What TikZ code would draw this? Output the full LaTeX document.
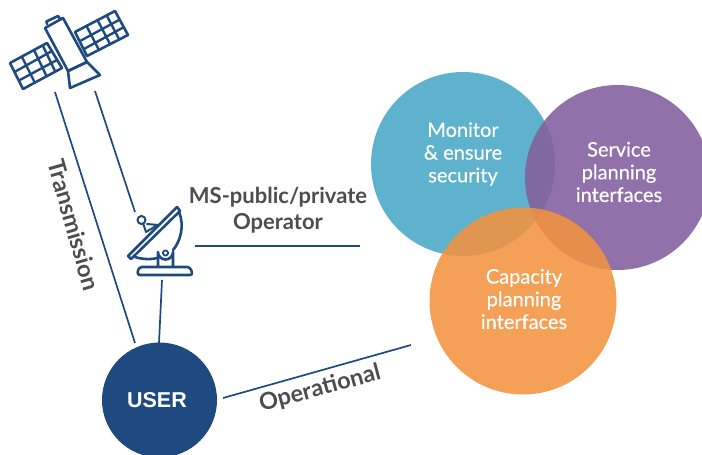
\documentclass[tikz,border=0pt]{standalone}
\usepackage{fontspec}
\setmainfont{Lato}
\newfontfamily\midfont[FakeBold=0.35]{Lato}
\newfontfamily\userfont{Liberation Sans}
\usetikzlibrary{calc}
\definecolor{navy}{HTML}{1F4A7F}
\definecolor{cblue}{HTML}{5EB2CD}
\definecolor{cpurple}{HTML}{82609E}
\definecolor{corange}{HTML}{F4923E}
\definecolor{txt}{HTML}{4D4D4D}
\tikzset{
 link/.style={navy,line width=1.7pt},
 icon/.style={navy,line width=2.6pt,line join=round,line cap=round},
 vennc/.style={circle,minimum size=#1,inner sep=0pt},
 venntxt/.style={text=white,align=center,font=\fontsize{20}{22.7}\selectfont\midfont},
 lab/.style={text=txt,font=\fontsize{22}{26}\selectfont\bfseries,align=center},
 rotlab/.style={text=txt,font=\fontsize{23.5}{26}\selectfont\bfseries},
}
\begin{document}
\begin{tikzpicture}[x=1pt,y=-1pt]
\useasboundingbox (0,0) rectangle (702,455);
\begin{scope}
\clip (0,0) rectangle (702,455);
\node[vennc=184pt,fill=cblue] (sec) at (463,164) {};
\node[vennc=185pt,fill=cpurple,fill opacity=.89] (srv) at (617.5,177.5) {};
\node[vennc=187pt,fill=corange,fill opacity=.87] (cap) at (523,301) {};
\node[vennc=115pt,fill=navy] (user) at (159.5,400) {};
\end{scope}
\node[venntxt] (sect) at (463,154) {Monitor\\\& ensure\\security};
\node[venntxt] (srvt) at (619,172) {Service\\planning\\interfaces};
\node[venntxt] (capt) at (524,299) {Capacity\\planning\\interfaces};
\node[text=white,font=\fontsize{21.5}{24}\selectfont\userfont\bfseries] (usert) at (157,400) {USER};
\node[lab] (ms) at (278,210) {MS-public/private\\Operator};
\node[rotlab,rotate=-74] (tr) at (74,225) {Transmission};
\node[rotlab,rotate=15] (op) at (320,389) {Operational};
% free ends
\coordinate (s1) at (55,92);
\coordinate (s2) at (95,91);
\coordinate (d1) at (135,212);
\coordinate (d2) at (162,280);
\coordinate (d3) at (195,246);
\coordinate (v1) at (360,246);
\coordinate (u1) at (135,343);
\coordinate (u2) at (159,343);
\coordinate (u3) at (223,398);
\coordinate (v2) at (411,345);
\draw[link] (s1) -- (u1);
\draw[link] (s2) -- (d1);
\draw[link] (d2) -- (u2);
\draw[link] (d3) -- (v1);
\draw[link] (u3) -- (v2);
% satellite
\draw[icon] (10,63) -- (47,43) -- (62,68) -- (23,89) -- cycle;
\draw[icon] (75,32) -- (115,11) -- (128,35) -- (87,56) -- cycle;
\draw[icon,line width=2.4pt] (14.5,72) -- (52,51) (19,80.5) -- (57,60) (22,57) -- (34,81) (34,50) -- (46,75) (43,46) -- (55,71);
\draw[icon,line width=2.4pt] (80,41) -- (119,20) (84,49) -- (124,27) (87,27) -- (99,50) (98,21) -- (110,44) (107,16) -- (119,39);
\draw[icon,fill=white] (45,28) -- (63,18) -- (87,62) -- (68,71) -- cycle;
\draw[icon] (47,24) -- (46.5,21.5) -- (58,16) -- (60.5,19.5);
\draw[icon] (68,71) -- (87,62) -- (100,75) -- (70,88) -- cycle;
% dish
\draw[icon] (179,212) .. controls (185,226) and (180,242) .. (173,250);
\draw[icon] (135,257) .. controls (141,259) and (150,260) .. (157,258);
\draw[icon,fill=white] (128,256) -- (177,207) -- (180,211) -- (131,259) -- cycle;
\draw[icon,line width=2pt] (142,220) -- (146,232) (147,224) -- (158,225) (146,232) -- (156,226);
\draw[icon,line width=2pt,fill=white] (141.5,220) circle (4);
\draw[icon,fill=white] (158,266) -- (158,252) arc (180:0:7.5) -- (173,266);
\draw[icon,line width=1.8pt] (165.5,253) circle (2.6);
\draw[icon,fill=white,rounded corners=3pt] (139,267) -- (190,267) -- (193,275) -- (137,275) -- cycle;
\end{tikzpicture}
\end{document}
